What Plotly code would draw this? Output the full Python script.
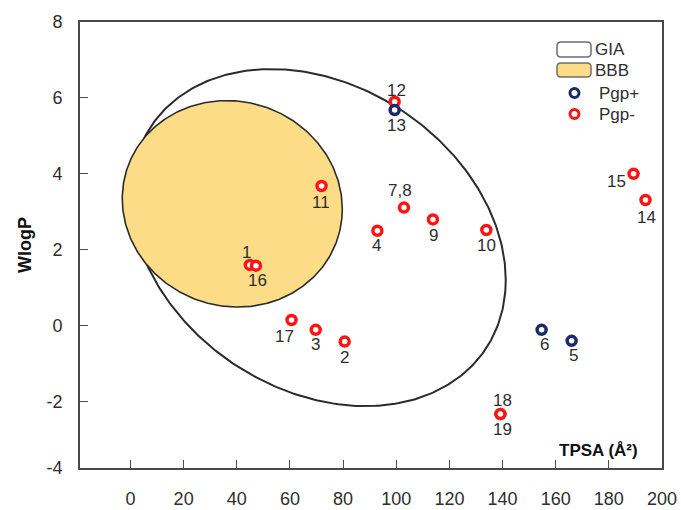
import numpy as np
import plotly.graph_objects as go

# ---------------- data ----------------
compound_ids = ["1", "2", "3", "4", "5", "6", "7,8", "9", "10", "11",
                "12", "13", "14", "15", "16", "17", "18", "19"]
tpsa = [44.9, 80.6, 69.7, 92.9, 166.0, 154.7, 102.9, 113.8, 133.9, 71.9,
        99.4, 99.4, 193.8, 189.3, 47.2, 60.6, 139.2, 139.2]
wlogp = [1.60, -0.42, -0.11, 2.50, -0.40, -0.11, 3.11, 2.80, 2.52, 3.68,
         5.90, 5.68, 3.31, 4.00, 1.58, 0.15, -2.33, -2.33]
pgp_class = ["Pgp-", "Pgp-", "Pgp-", "Pgp-", "Pgp+", "Pgp+", "Pgp-", "Pgp-", "Pgp-", "Pgp-",
             "Pgp-", "Pgp+", "Pgp-", "Pgp-", "Pgp-", "Pgp-", "Pgp-", "Pgp-"]

x_tick_vals = [0, 20, 40, 60, 80, 100, 120, 140, 160, 180, 200]
y_tick_vals = [-3.75, -2, 0, 2, 4, 6, 8]
y_tick_text = ["-4", "-2", "0", "2", "4", "6", "8"]

# ellipse regions (centre, half-extents, phase) in data units
gia_ellipse = dict(cx=70.7, cy=2.32, ax=70.5, ay=4.44, cphi=-0.252)
bbb_ellipse = dict(cx=38.3, cy=3.21, ax=41.4, ay=2.72, cphi=-0.05)

# ---------------- styling ----------------
label_offsets = {  # (xshift, yshift) in px
    "1": (-3, 12), "2": (0, -16), "3": (0, -15), "4": (-1, -15), "5": (2, -15),
    "6": (3, -15), "7,8": (-4, 17), "9": (1, -16), "10": (0, -15), "11": (-1, -17),
    "12": (2, 11), "13": (2, -15), "14": (1, -17), "15": (-17, -8), "16": (2, -15),
    "17": (-7, -17), "18": (2, 14), "19": (2, -15),
}
colors = {"Pgp+": "#1c2a6b", "Pgp-": "#ff1414"}
TXT = "#2e2e2e"
FONT = "Liberation Sans, Arial, sans-serif"

FIG_W, FIG_H = 681, 510
# plot-area edges in pixels
SX0, SX1, SY0, SY1 = 80, 662, 22, 468
L, R, T, B = SX0, FIG_W - SX1, SY0, FIG_H - SY1
W, H = SX1 - SX0, SY1 - SY0


def ellipse(e, n=400):
    t = np.linspace(0, 2 * np.pi, n)
    phi = np.arccos(e["cphi"])
    return e["cx"] + e["ax"] * np.cos(t), e["cy"] + e["ay"] * np.cos(t - phi)


fig = go.Figure()

gx, gy = ellipse(gia_ellipse)
fig.add_trace(go.Scatter(x=gx, y=gy, mode="lines", line=dict(color="#2b2b2b", width=2),
                         hoverinfo="skip", showlegend=False))
bx, by = ellipse(bbb_ellipse)
fig.add_trace(go.Scatter(x=bx, y=by, mode="lines", fill="toself", fillcolor="#fcdc86",
                         line=dict(color="#2b2b2b", width=1.6), hoverinfo="skip", showlegend=False))

for cls in ["Pgp-", "Pgp+"]:
    idx = [i for i, c in enumerate(pgp_class) if c == cls]
    fig.add_trace(go.Scatter(
        x=[tpsa[i] for i in idx], y=[wlogp[i] for i in idx], mode="markers",
        marker=dict(symbol="circle", size=9, color="white",
                    line=dict(color=colors[cls], width=3.5)),
        showlegend=False, text=[compound_ids[i] for i in idx]))

for cid, x, y in zip(compound_ids, tpsa, wlogp):
    dx, dy = label_offsets[cid]
    fig.add_annotation(x=x, y=y, text=cid, showarrow=False, xshift=dx, yshift=dy,
                       font=dict(family=FONT, size=17, color=TXT))


# ---------------- manual legend (px -> paper) ----------------
def px(x):
    return (x - SX0) / W


def py(y):
    return (SY1 - y) / H


def rrect(x0, y0, x1, y1, r=4):
    ax0, ax1 = px(x0), px(x1)
    ay0, ay1 = py(y1), py(y0)
    rx, ry = r / W, r / H
    return (f"M {ax0+rx},{ay0} L {ax1-rx},{ay0} Q {ax1},{ay0} {ax1},{ay0+ry} "
            f"L {ax1},{ay1-ry} Q {ax1},{ay1} {ax1-rx},{ay1} L {ax0+rx},{ay1} "
            f"Q {ax0},{ay1} {ax0},{ay1-ry} L {ax0},{ay0+ry} Q {ax0},{ay0} {ax0+rx},{ay0} Z")


fig.add_shape(type="path", xref="paper", yref="paper", path=rrect(557, 42, 591, 57),
              line=dict(color="#6e6e6e", width=1.5), fillcolor="white")
fig.add_shape(type="path", xref="paper", yref="paper", path=rrect(557, 63, 591, 77),
              line=dict(color="#6e6e6e", width=1.5), fillcolor="#fcdc86")
for yy, cls in [(93, "Pgp+"), (114, "Pgp-")]:
    r = 4.5
    fig.add_shape(type="circle", xref="paper", yref="paper",
                  x0=px(574.5 - r), x1=px(574.5 + r), y0=py(yy + r), y1=py(yy - r),
                  line=dict(color=colors[cls], width=3), fillcolor="white")
for yy, txt, x0 in [(49.5, "GIA", 593), (70.5, "BBB", 593), (93.5, "Pgp+", 597), (114.5, "Pgp-", 597)]:
    fig.add_annotation(xref="paper", yref="paper", x=px(x0), y=py(yy), text=txt,
                       showarrow=False, xanchor="left", yanchor="middle",
                       font=dict(family=FONT, size=17, color=TXT))

# axis titles
fig.add_annotation(xref="paper", yref="paper", x=px(640), y=py(450), text="<b>TPSA (Å²)</b>",
                   showarrow=False, xanchor="right", yanchor="middle",
                   font=dict(family=FONT, size=17, color="#111"))
fig.add_annotation(xref="paper", yref="paper", x=px(25), y=py(245), text="<b>WlogP</b>",
                   showarrow=False, textangle=-90, xanchor="center", yanchor="middle",
                   font=dict(family=FONT, size=18, color="#111"))

axis_common = dict(showgrid=False, zeroline=False, showline=True, mirror=True,
                   linecolor="#4a4a4a", linewidth=1.6, ticks="inside", ticklen=8,
                   tickcolor="#4a4a4a", tickwidth=1.4, automargin=False,
                   tickfont=dict(family=FONT, size=18, color=TXT))

fig.update_layout(
    width=FIG_W, height=FIG_H, margin=dict(l=L, r=R, t=T, b=B, autoexpand=False),
    paper_bgcolor="white", plot_bgcolor="white", showlegend=False,
    xaxis=dict(range=[-19, 200], tickvals=x_tick_vals, ticklabelstandoff=14, **axis_common),
    yaxis=dict(range=[-3.75, 8], tickvals=y_tick_vals, ticktext=y_tick_text,
               ticklabelstandoff=12, **axis_common),
)

fig.write_html("out.html", config={"displayModeBar": False},
               post_script="document.body.style.margin='0';document.body.style.overflow='hidden';")
